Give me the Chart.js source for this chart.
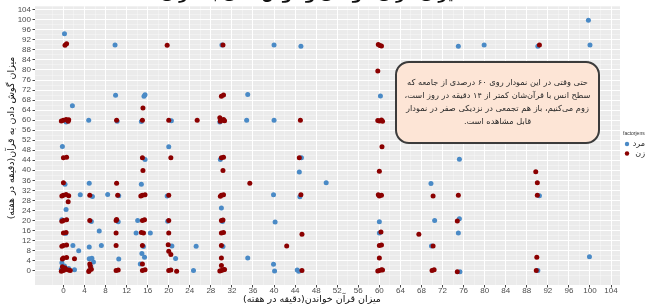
<!DOCTYPE html>
<html>
<head>
<meta charset="utf-8">
<script src="https://cdn.jsdelivr.net/npm/chart.js@4.4.1/dist/chart.umd.min.js"></script>
<style>
  html, body { margin: 0; padding: 0; background: #fff; }
  canvas { display: block; }
</style>
</head>
<body>
<canvas id="chart" width="647" height="306" dir="rtl"></canvas>
<script>
// tick labels (both axes use the same breaks)
const majorTicks = [0, 4, 8, 12, 16, 20, 24, 28, 32, 36, 40, 44, 48, 52, 56, 60, 64, 68, 72, 76, 80, 84, 88, 92, 96, 100, 104];

// [reading minutes/week, listening minutes/week]
const menPoints = [
  [0.2, 94.5], [0.5, 59.3], [-0.2, 49.5], [0.3, 34.4], [0.5, 24.4], [-0.3, 20.3], [1.8, 10], [2.9, 7.9],
  [-0.3, 3.1], [0.2, 1.8], [1.0, 0.8], [2.1, 0.3], [-0.4, 0.5], [1.7, 65.7], [0.4, 14.8],
  [4.8, 60], [4.9, 34.8], [5.5, 29.5], [5.3, 19.6], [6.8, 15.8], [4.9, 9.4], [4.9, 4.7], [5.4, 4.9],
  [5.7, 3.4], [3.2, 30.2], [5.2, 1.5], [7.2, 10], [8.4, 30.3],
  [9.8, 90], [9.9, 69.9], [10.2, 59.6], [10.5, 29.8], [10.5, 4.6], [10.4, 19.5],
  [15.3, 69.5], [15.5, 70.1], [14.8, 59.5], [15.5, 44.3], [14.8, 34.4], [14.1, 20], [13.8, 15], [16.5, 15],
  [15.2, 9.6], [14.9, 6.8], [15.4, 5.3], [14.6, 2.6],
  [20, 49.4], [20.5, 59.8], [20.6, 9.8], [21.3, 4.8], [19.8, 19.7], [19.7, 29.7],
  [24.7, 0], [25.2, 9.7],
  [30.1, 90], [30, 25], [29.7, 59.3], [29.8, 44.3], [30.2, 19.6], [30.3, 9.6],
  [35, 70.2], [34.8, 60], [35, 5],
  [40, 90], [40, 60], [39.9, 30.2], [40.2, 19.4], [39.9, 2.5], [40.1, -0.2],
  [45.1, 89.5], [45.2, 45], [44.8, 39.3], [44.9, 29.4], [44.7, -0.3], [44.4, 0.2],
  [49.9, 35],
  [60.2, 69.6], [60, 19.5], [60, 15],
  [69.8, 34.7], [70.5, 20], [69.9, 9.8],
  [75, 89.5], [75.2, 44.4], [75.2, 20.7], [75, 15], [75.3, -0.5],
  [79.9, 90],
  [90.1, 89.5], [90.4, 29.8], [90.1, 0],
  [99.7, 99.8], [100, 90], [99.9, 5.5]
];

const womenPoints = [
  [0.3, 89.9], [0.6, 90.5], [0, 60], [0.5, 60.3], [-0.4, 59.7], [0.9, 59.6], [1.0, 60.2], [0, 45], [0.6, 45.2],
  [0, 35], [0, 30], [0.5, 30.3], [-0.3, 29.7], [1, 29.8], [0.9, 27.5], [0, 20], [0.6, 20.3], [-0.3, 19.7],
  [0, 15], [0.5, 15.2], [0, 10], [0.6, 10.2], [-0.3, 9.7], [0, 5], [0.6, 5.2], [-0.2, 4.6], [2.1, 4.7],
  [0, 0], [0.5, 0.4], [-0.4, -0.3], [1.0, 0.2], [1.3, 0], [0.3, 1.0], [-0.2, 1.5],
  [5, 30], [5, 20], [4.9, 0], [5.3, 0.5], [5.1, 1.8], [4.8, -0.4], [5, 2.6],
  [10.1, 60], [10.3, 30], [10, 20], [10.1, 20.4], [10, 15], [10, 10], [10, 0], [10.4, 0.2], [10.1, 34.8],
  [15.1, 64.8], [15, 60], [15, 45], [15.1, 39.9], [15, 30], [15.5, 30.2], [14.7, 29.7], [15, 20], [15.4, 20.3],
  [15.2, 15], [14.8, 15.2], [15, 10], [15, 2.6], [15, 0], [15.5, 0.3],
  [19.7, 89.9], [20, 60], [20.4, 45], [20, 30], [20, 20], [20, 15], [19.9, 10.3], [20, 7.7], [20.4, 6.4],
  [20, 0], [20.4, 0.2], [21.5, -0.3],
  [25.4, 60],
  [30.3, 90], [30, 69.5], [30.4, 70], [30, 60], [30.4, 60.3], [29.8, 59.6], [30.6, 59.8], [29.7, 61],
  [30, 45], [30.4, 45.2], [30.3, 39.9], [30, 30], [30.4, 30.2], [29.8, 29.6], [30, 20], [30.3, 20.2],
  [30, 15], [30.4, 15.2], [30, 10], [30, 5], [30, 2], [30, 0], [30.4, 0.3], [29.7, -0.2], [30.6, 0.4],
  [35.4, 34.8],
  [42.4, 9.8],
  [45, 60], [44.8, 45], [45.1, 30.2], [45.3, 14.5], [45.3, 0],
  [60.1, 89.8], [59.8, 90.2], [60.4, 89.6], [59.7, 79.6], [60, 59.7], [60.4, 60.1], [59.7, 59.9], [60.6, 59.6],
  [60.5, 49.4], [60, 39.6], [60, 29.7], [60.4, 30], [59.8, 30.2], [60.3, 15.4], [60, 10], [60.4, 10.2],
  [60, 5], [60, 0], [60.4, 0.3], [59.7, -0.2], [60.6, 0.2],
  [67.5, 14.5],
  [70.2, 29.7], [70.2, 9.8], [70, 0], [70.4, 0.3],
  [75, 30], [74.8, 19.8], [74.8, -0.5],
  [90.4, 90], [89.7, 39.4], [90, 35], [90, 30], [89.9, 5.3], [89.8, 0]
];

const seriesLabels = ['مرد', 'زن'];
const seriesColors = ['#4a8ac6', '#8b0000'];
const legendTitle = 'factorjens';
const xTitle = 'میزان قرآن خواندن(دقیقه در هفته)';
const yTitle = 'میزان گوش دادن به قرآن(دقیقه در هفته)';
const noteLines = [
  'حتی وقتی در این نمودار روی ۶۰ درصدی از جامعه که',
  'سطح انس با قرآن‌شان کمتر از ۱۴ دقیقه در روز است،',
  'زوم می‌کنیم، باز هم تجمعی در نزدیکی صفر در نمودار',
  'قابل مشاهده است.'
];
const chartTitle = 'میزان قرآن خواندن و گوش دادن به قرآن';

const faFont = '"DejaVu Sans", sans-serif';
const numFont = '"Liberation Sans", Arial, sans-serif';

// major breaks plus the ggplot-style minor breaks halfway between them
const gridValues = [-2];
majorTicks.forEach((v) => { gridValues.push(v); if (v < 104) gridValues.push(v + 2); });
const isMajor = (v) => majorTicks.includes(v);

function axisConfig(min, max) {
  return {
    type: 'linear',
    min,
    max,
    afterBuildTicks: (axis) => { axis.ticks = gridValues.map((v) => ({ value: v })); },
    ticks: {
      autoSkip: false,
      maxRotation: 0,
      padding: -1.5,
      color: '#4d4d4d',
      font: { family: numFont, size: 8 },
      callback: (v) => (isMajor(v) ? String(v) : ''),
    },
    grid: {
      color: (ctx) => (ctx.tick && isMajor(ctx.tick.value) ? '#ffffff' : 'rgba(255,255,255,0.55)'),
      lineWidth: (ctx) => (ctx.tick && isMajor(ctx.tick.value) ? 1 : 0.6),
      tickColor: (ctx) => (ctx.tick && isMajor(ctx.tick.value) ? '#444' : 'rgba(0,0,0,0)'),
      tickLength: 2.5,
    },
    border: { display: false },
  };
}

const xScale = axisConfig(-5.4, 105.7);
xScale.afterFit = (axis) => { axis.height = 21; };
const yScale = axisConfig(-5.75, 105.4);
yScale.ticks.padding = 1.5;
yScale.afterFit = (axis) => { axis.width = 35; };

const panelPlugin = {
  id: 'panel',
  beforeDraw(chart) {
    const { ctx, chartArea: a } = chart;
    ctx.save();
    ctx.fillStyle = '#ebebeb';
    ctx.fillRect(a.left, a.top, a.right - a.left, a.bottom - a.top);
    ctx.restore();
  },
  afterDraw(chart) {
    const { ctx } = chart;
    ctx.save();
    ctx.direction = 'rtl';
    ctx.textAlign = 'center';

    // cropped title at the very top
    ctx.fillStyle = '#111';
    ctx.font = 'bold 15px ' + faFont;
    ctx.textBaseline = 'alphabetic';
    ctx.fillText(chartTitle, 312, -1);

    // axis titles
    ctx.textBaseline = 'middle';
    ctx.fillStyle = '#111';
    ctx.font = '9.5px ' + faFont;
    ctx.fillText(xTitle, 312, 299.5);
    ctx.save();
    ctx.translate(12, 138);
    ctx.rotate(-Math.PI / 2);
    ctx.fillText(yTitle, 0, 0);
    ctx.restore();

    // note box
    const bx = 396, by = 62, bw = 203, bh = 81;
    ctx.beginPath();
    ctx.roundRect(bx, by, bw, bh, 13);
    ctx.fillStyle = '#fde5d6';
    ctx.fill();
    ctx.lineWidth = 2;
    ctx.strokeStyle = '#3b3b3b';
    ctx.stroke();
    ctx.fillStyle = '#2a2a2a';
    let size = 9;
    ctx.font = size + 'px ' + faFont;
    const widest = Math.max(...noteLines.map((l) => ctx.measureText(l).width));
    size = size * 186 / widest;
    ctx.font = size.toFixed(2) + 'px ' + faFont;
    noteLines.forEach((line, i) => ctx.fillText(line, bx + bw / 2, 83 + i * 13));

    // legend
    ctx.textAlign = 'left';
    ctx.direction = 'ltr';
    ctx.fillStyle = '#333';
    ctx.font = '5px ' + numFont;
    ctx.fillText(legendTitle, 623, 134);
    seriesLabels.forEach((label, i) => {
      const y = 144 + i * 9.5;
      ctx.beginPath();
      ctx.arc(627, y, 2.2, 0, Math.PI * 2);
      ctx.fillStyle = seriesColors[i];
      ctx.fill();
      ctx.fillStyle = '#222';
      ctx.font = '8px ' + faFont;
      ctx.direction = 'rtl';
      ctx.textAlign = 'right';
      ctx.fillText(label, 645, y);
      ctx.direction = 'ltr';
      ctx.textAlign = 'left';
    });
    ctx.restore();
  },
};

const toXY = (pts) => pts.map(([x, y]) => ({ x, y }));

new Chart(document.getElementById('chart'), {
  type: 'scatter',
  data: {
    datasets: [
      { label: seriesLabels[0], data: toXY(menPoints), backgroundColor: seriesColors[0], pointRadius: 2.5, pointBorderWidth: 0, order: 1 },
      { label: seriesLabels[1], data: toXY(womenPoints), backgroundColor: seriesColors[1], pointRadius: 2.5, pointBorderWidth: 0, order: 0 },
    ],
  },
  options: {
    responsive: false,
    animation: false,
    devicePixelRatio: 1,
    layout: { padding: { top: 5, right: 27, left: 0, bottom: 0 } },
    plugins: { legend: { display: false }, tooltip: { enabled: false } },
    scales: { x: xScale, y: yScale },
  },
  plugins: [panelPlugin],
});
</script>
</body>
</html>
